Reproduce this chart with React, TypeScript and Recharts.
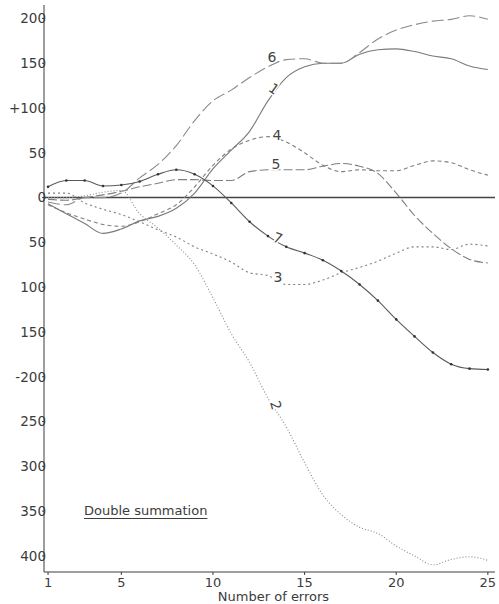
import { LineChart, Line, XAxis, YAxis, ReferenceLine, LabelList } from 'recharts';

const errors = [1, 2, 3, 4, 5, 6, 7, 8, 9, 10, 11, 12, 13, 14, 15, 16, 17, 18, 19, 20, 21, 22, 23, 24, 25];

const curve1 = [-7, -18, -29, -40, -35, -26, -21, -12, 5, 32, 53, 74, 108, 134, 146, 150, 150, 160, 165, 166, 163, 158, 155, 147, 143];
const curve2 = [0, 0, 2, 6, 8, -18, -34, -53, -75, -112, -152, -184, -224, -256, -296, -332, -354, -368, -375, -389, -400, -410, -404, -401, -405];
const curve3 = [5, 5, -6, -13, -19, -27, -36, -44, -55, -63, -72, -84, -87, -97, -97, -92, -84, -78, -71, -62, -55, -55, -58, -52, -54];
const curve4 = [-8, -17, -24, -30, -32, -27, -18, -8, 12, 36, 54, 64, 68, 62, 50, 36, 29, 31, 30, 30, 36, 41, 39, 31, 25];
const curve5 = [-2, -3, 0, 3, 7, 12, 16, 20, 20, 19, 19, 29, 31, 31, 31, 35, 38, 35, 27, 5, -20, -40, -57, -69, -73];
const curve6 = [-5, -8, 0, 0, 5, 22, 37, 58, 86, 108, 120, 134, 146, 154, 155, 150, 150, 162, 177, 187, 193, 197, 199, 203, 199];
const curve7 = [12, 19, 19, 13, 14, 18, 26, 31, 26, 13, -6, -27, -43, -55, -62, -70, -82, -97, -115, -136, -155, -173, -186, -191, -192];

const xTicks = [1, 5, 10, 15, 20, 25];
const yTicks = [200, 150, 100, 50, 0, -50, -100, -150, -200, -250, -300, -350, -400];

const data = errors.map((n, i) => ({
  n,
  c1: curve1[i],
  c2: curve2[i],
  c3: curve3[i],
  c4: curve4[i],
  c5: curve5[i],
  c6: curve6[i],
  c7: curve7[i],
}));

const font = 'DejaVu Sans, sans-serif';
const ink = '#3c3c3c';

const yLabel = (v: number) => (v === 100 ? '+100' : v === -200 ? '-200' : String(Math.abs(v)));

// curve number written next to each line, at x = 13
const tag = (name: string, dx: number, dy: number, rotate = 0) => (props: any) => {
  if (props.index !== 12) return null;
  const x = Number(props.x) + dx;
  const y = Number(props.y) + dy;
  return (
    <text
      x={x}
      y={y}
      textAnchor="middle"
      dominantBaseline="central"
      fontFamily={font}
      fontSize={14}
      fill="#444"
      stroke="#fff"
      strokeWidth={3}
      paintOrder="stroke"
      transform={rotate ? `rotate(${rotate} ${x} ${y})` : undefined}
    >
      {name}
    </text>
  );
};

export default function App() {
  return (
    <div style={{ position: 'absolute', left: 0, top: 0, width: 499, height: 604, background: '#fff' }}>
      <LineChart width={499} height={604} data={data} margin={{ top: 5, right: 4, bottom: 0, left: 0 }}>
        <XAxis
          dataKey="n"
          type="number"
          domain={[0.78, 25.39]}
          allowDataOverflow
          ticks={xTicks}
          height={32}
          stroke={ink}
          tickSize={3}
          tickMargin={3}
          tick={{ fontFamily: font, fontSize: 13, fill: ink }}
          label={{ value: 'Number of errors', position: 'insideBottom', offset: 3, dx: 4, fontFamily: font, fontSize: 13, fill: ink }}
        />
        <YAxis
          type="number"
          domain={[-418, 215]}
          allowDataOverflow
          ticks={yTicks}
          interval={0}
          width={44}
          stroke={ink}
          tickSize={2}
          tickMargin={-4}
          tickFormatter={yLabel}
          tick={{ fontFamily: font, fontSize: 13.5, fill: ink }}
        />
        <ReferenceLine y={0} stroke="#444" strokeWidth={1.5} />
        <Line type="monotone" dataKey="c1" stroke="#7a7a7a" strokeWidth={1.1} dot={false} isAnimationActive={false}>
          <LabelList content={tag('1', 6, -12, 35)} />
        </Line>
        <Line type="monotone" dataKey="c2" stroke="#8a8a8a" strokeWidth={1.1} strokeDasharray="1 2" dot={false} isAnimationActive={false}>
          <LabelList content={tag('2', 8, 7, 75)} />
        </Line>
        <Line type="monotone" dataKey="c3" stroke="#7f7f7f" strokeWidth={1.1} strokeDasharray="2 3" dot={false} isAnimationActive={false}>
          <LabelList content={tag('3', 10, 1)} />
        </Line>
        <Line type="monotone" dataKey="c4" stroke="#7f7f7f" strokeWidth={1.1} strokeDasharray="4 3" dot={false} isAnimationActive={false}>
          <LabelList content={tag('4', 9, -2)} />
        </Line>
        <Line type="monotone" dataKey="c5" stroke="#7f7f7f" strokeWidth={1.1} strokeDasharray="9 3" dot={false} isAnimationActive={false}>
          <LabelList content={tag('5', 8, -6)} />
        </Line>
        <Line type="monotone" dataKey="c6" stroke="#8a8a8a" strokeWidth={1.1} strokeDasharray="12 4" dot={false} isAnimationActive={false}>
          <LabelList content={tag('6', 4, -10)} />
        </Line>
        <Line
          type="monotone"
          dataKey="c7"
          stroke="#5a5a5a"
          strokeWidth={1.1}
          dot={{ r: 1.3, fill: '#333', stroke: 'none' }}
          isAnimationActive={false}
        >
          <LabelList content={tag('7', 10, 2, 20)} />
        </Line>
      </LineChart>
      <div
        style={{
          position: 'absolute',
          left: 84,
          top: 503,
          fontFamily: font,
          fontSize: 13,
          lineHeight: '16px',
          color: ink,
          textDecoration: 'underline',
          textUnderlineOffset: 3,
        }}
      >
        Double summation
      </div>
    </div>
  );
}
